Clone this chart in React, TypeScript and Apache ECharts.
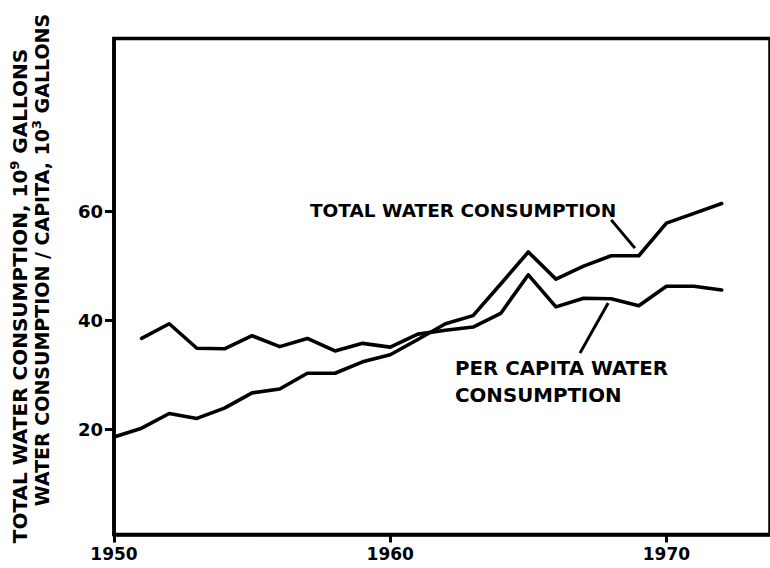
import React, { useEffect, useRef } from "react";
import * as echarts from "echarts";

const years = [
  1950, 1951, 1952, 1953, 1954, 1955, 1956, 1957, 1958, 1959, 1960, 1961,
  1962, 1963, 1964, 1965, 1966, 1967, 1968, 1969, 1970, 1971, 1972,
];
const totalConsumption = [
  18.6, 20.2, 22.9, 22.0, 23.9, 26.7, 27.4, 30.3, 30.3, 32.4, 33.7, 36.5,
  39.4, 40.9, 46.7, 52.6, 47.6, 50.0, 51.9, 51.9, 57.9, 59.7, 61.5,
];
const perCapitaConsumption = [
  null, 36.7, 39.4, 34.9, 34.8, 37.2, 35.2, 36.7, 34.4, 35.8, 35.1, 37.5,
  38.2, 38.8, 41.3, 48.4, 42.5, 44.1, 44.0, 42.7, 46.3, 46.3, 45.6,
];
const xTicks = [1950, 1960, 1970];
const yTicks = [20, 40, 60];

const seriesNames = ["TOTAL WATER CONSUMPTION", "PER CAPITA WATER CONSUMPTION"];
const yTitle1 = "TOTAL WATER CONSUMPTION, 10{sup|9} GALLONS";
const yTitle2 = "WATER CONSUMPTION / CAPITA, 10{sup|3} GALLONS";

// leader lines (data coordinates)
const totalLeader = [[1968.0, 58.5], [1968.86, 53.3]];
const perCapitaLeader = [[1966.87, 34.0], [1967.89, 43.2]];

const FONT = "DejaVu Sans";

export default function App() {
  const ref = useRef<HTMLDivElement>(null);
  useEffect(() => {
    if (!ref.current) return;
    const chart = echarts.init(ref.current, undefined, { renderer: "svg" });
    const lineStyle = { color: "#000", width: 3.6, join: "round", cap: "round" };
    const supStyle = {
      fontFamily: FONT,
      fontWeight: "bold",
      fontSize: 13,
      fill: "#000",
      padding: [0, 0, 12, 0],
    };
    chart.setOption({
      animation: false,
      backgroundColor: "#fff",
      grid: {
        left: 114,
        right: 0,
        top: 38.5,
        bottom: 33.5,
        show: true,
        borderColor: "#000",
        borderWidth: 3.5,
        containLabel: false,
      },
      xAxis: {
        type: "value",
        min: 1950,
        max: 1973.75,
        splitLine: { show: false },
        axisLine: { show: true, lineStyle: { color: "#000", width: 3.5 } },
        axisTick: {
          show: true,
          customValues: xTicks,
          length: 8,
          lineStyle: { color: "#000", width: 3 },
        },
        axisLabel: {
          customValues: xTicks,
          formatter: (v: number) => String(v),
          margin: 11,
          color: "#000",
          fontFamily: FONT,
          fontWeight: "bold",
          fontSize: 17,
        },
      },
      yAxis: {
        type: "value",
        min: 0.66,
        max: 91.84,
        splitLine: { show: false },
        axisLine: { show: true, lineStyle: { color: "#000", width: 3.5 } },
        axisTick: {
          show: true,
          customValues: yTicks,
          length: 9,
          lineStyle: { color: "#000", width: 3 },
        },
        axisLabel: {
          customValues: yTicks,
          formatter: (v: number) => String(v),
          margin: 11,
          color: "#000",
          fontFamily: FONT,
          fontWeight: "bold",
          fontSize: 18,
        },
      },
      series: [
        {
          name: seriesNames[0],
          type: "line",
          data: years.map((y, i) => [y, totalConsumption[i]]),
          showSymbol: false,
          symbol: "none",
          lineStyle,
          markLine: {
            silent: true,
            symbol: "none",
            label: { show: false },
            lineStyle: { color: "#000", width: 3, type: "solid" },
            data: [[{ coord: totalLeader[0] }, { coord: totalLeader[1] }]],
          },
        },
        {
          name: seriesNames[1],
          type: "line",
          data: years.map((y, i) => [y, perCapitaConsumption[i]]),
          showSymbol: false,
          symbol: "none",
          connectNulls: false,
          lineStyle,
          markLine: {
            silent: true,
            symbol: "none",
            label: { show: false },
            lineStyle: { color: "#000", width: 3, type: "solid" },
            data: [[{ coord: perCapitaLeader[0] }, { coord: perCapitaLeader[1] }]],
          },
        },
      ],
      graphic: [
        {
          type: "text",
          x: 310,
          y: 210,
          style: {
            text: "TOTAL WATER CONSUMPTION",
            fill: "#000",
            font: `bold 18.5px "${FONT}"`,
            align: "left",
            verticalAlign: "middle",
          },
        },
        {
          type: "text",
          x: 455,
          y: 368,
          style: {
            text: "PER CAPITA WATER",
            fill: "#000",
            font: `bold 19.8px "${FONT}"`,
            align: "left",
            verticalAlign: "middle",
          },
        },
        {
          type: "text",
          x: 455,
          y: 395,
          style: {
            text: "CONSUMPTION",
            fill: "#000",
            font: `bold 19.8px "${FONT}"`,
            align: "left",
            verticalAlign: "middle",
          },
        },
        {
          type: "text",
          x: 20,
          y: 296,
          rotation: Math.PI / 2,
          style: {
            text: yTitle1,
            fill: "#000",
            fontFamily: FONT,
            fontWeight: "bold",
            fontSize: 20,
            align: "center",
            verticalAlign: "middle",
            rich: { sup: supStyle },
          },
        },
        {
          type: "text",
          x: 42,
          y: 260,
          rotation: Math.PI / 2,
          style: {
            text: yTitle2,
            fill: "#000",
            fontFamily: FONT,
            fontWeight: "bold",
            fontSize: 19,
            align: "center",
            verticalAlign: "middle",
            rich: { sup: supStyle },
          },
        },
      ],
    });
    return () => chart.dispose();
  }, []);
  return (
    <div
      ref={ref}
      style={{ position: "absolute", left: 0, top: 0, width: 770, height: 568 }}
    />
  );
}
